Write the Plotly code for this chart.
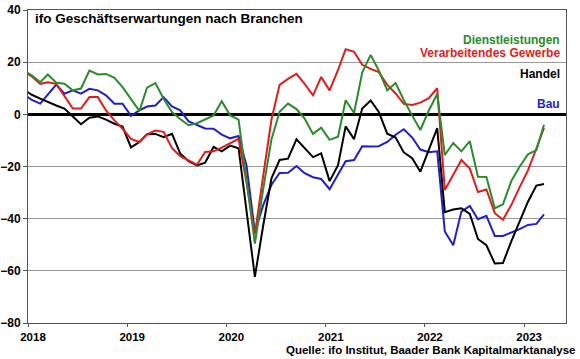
import pandas as pd
import plotly.graph_objects as go

# Monthly data, Dec 2017 .. Mar 2023 (plotted mid-month)
months = (pd.date_range("2017-12-01", "2023-03-01", freq="MS") + pd.Timedelta(days=14))

dienstleistungen = [16.8,
    15.0, 12.3, 15.3, 12.1, 11.7, 9.2, 9.9, 16.8, 15.3, 15.5, 14.0, 10.4,
    6.0, 1.3, 10.2, 12.0, 6.0, 0.9, -1.8, -4.2, -3.4, -1.8, -0.4, 5.0,
    -0.4, -2.0, -25.0, -49.6, -29.0, -9.6, 1.0, 4.1, 2.0, -1.6, -7.5, -5.1,
    -9.8, -8.6, 5.4, 0.5, 16.0, 22.8, 16.8, 9.2, 12.0, 5.5, -0.5, -6.0,
    1.5, 7.8, -15.6, -11.0, -14.2, -10.3, -23.9, -24.0, -36.0, -34.5, -25.5, -20.1,
    -15.3, -13.7, -4.0]

verarbeitendes_gewerbe = [16.5,
    14.5, 11.7, 12.3, 11.7, 7.0, 2.2, 2.2, 6.6, 6.6, 1.5, -2.3, -5.5,
    -9.4, -10.6, -7.7, -6.2, -6.7, -13.0, -16.0, -17.6, -19.3, -14.4, -14.2, -12.8,
    -11.0, -9.4, -26.0, -46.0, -24.0, -2.0, 11.3, 13.6, 15.5, 11.7, 7.3, 14.3,
    9.2, 17.0, 25.0, 24.0, 19.0, 17.4, 16.2, 11.3, 8.0, 4.0, 3.6, 4.5,
    6.2, 10.0, -29.0, -23.2, -17.5, -20.8, -29.8, -28.8, -37.9, -40.4, -34.7, -28.0,
    -21.5, -13.1, -5.2]

handel = [9.5,
    7.5, 6.0, 4.7, 3.4, 2.2, -1.0, -3.8, -1.3, -0.8, -2.0, -3.6, -4.7,
    -12.7, -10.6, -7.6, -7.5, -8.8, -7.5, -15.0, -18.0, -19.6, -18.5, -12.5, -14.2,
    -12.0, -13.0, -37.0, -62.3, -43.0, -24.5, -17.5, -17.0, -9.6, -12.8, -16.4, -15.0,
    -25.6, -19.5, -4.6, -9.5, 2.2, 5.3, 0.9, -7.4, -8.9, -14.6, -16.8, -22.0,
    -14.0, -5.3, -37.5, -36.5, -36.0, -38.2, -47.8, -50.2, -57.2, -57.0, -48.6, -40.8,
    -33.5, -27.3, -26.7]

bau = [7.8,
    5.5, 4.1, 7.7, 11.4, 7.9, 9.2, 7.9, 9.8, 9.2, 7.3, 4.1, 4.1,
    -0.6, 1.5, 3.0, 3.4, 6.6, 3.0, 1.5, -2.7, -4.1, -5.4, -5.5, -7.8,
    -9.2, -8.3, -19.5, -45.2, -35.0, -27.0, -22.5, -22.4, -19.8, -22.6, -24.1, -24.8,
    -28.7, -23.0, -18.0, -17.5, -12.2, -12.3, -12.2, -10.6, -7.8, -5.7, -8.9, -13.5,
    -14.5, -14.2, -44.9, -50.2, -37.3, -35.1, -40.2, -38.9, -46.6, -46.6, -45.3, -44.0,
    -42.4, -42.0, -38.4]

years = ["2018", "2019", "2020", "2021", "2022", "2023"]
y_ticks = [40, 20, 0, -20, -40, -60, -80]

series = [
    ("Bau", bau, "#1f1fd0"),
    ("Handel", handel, "#000000"),
    ("Verarbeitendes Gewerbe", verarbeitendes_gewerbe, "#e41b1b"),
    ("Dienstleistungen", dienstleistungen, "#2a8c2a"),
]

FONT = "Arial, Liberation Sans, sans-serif"
L, R, T, B = 28, 14, 10, 36
PW, PH = 580 - L - R, 359 - T - B

fig = go.Figure()
for name, vals, col in series:
    fig.add_trace(go.Scatter(x=months, y=vals, mode="lines", name=name,
                             line=dict(color=col, width=2), showlegend=False,
                             hoverinfo="skip"))

fig.update_layout(
    width=580, height=359,
    margin=dict(l=L, r=R, t=T, b=B, autoexpand=False),
    paper_bgcolor="white", plot_bgcolor="white",
    font=dict(family=FONT, size=12, color="black"),
    showlegend=False,
)

fig.update_xaxes(
    range=["2018-01-01", "2023-06-04"], automargin=False,
    tickvals=[f"{y}-01-01" for y in years], ticktext=years,
    tickfont=dict(family=FONT, size=11.5, color="black", weight="bold"),
    ticklabelshift=5, ticklabelstandoff=0,
    showgrid=False, showline=True, linecolor="#555555", linewidth=1, mirror=True,
    ticks="outside", ticklen=3, tickcolor="#555555",
)
fig.update_yaxes(
    range=[-80, 40], tickvals=y_ticks, automargin=False,
    tickfont=dict(family=FONT, size=12, color="black", weight="bold"),
    showgrid=True, gridcolor="#9a9a9a", gridwidth=1,
    zeroline=True, zerolinecolor="black", zerolinewidth=3,
    showline=True, linecolor="#555555", linewidth=1, mirror=True,
    ticks="outside", ticklen=4, tickcolor="#555555",
)

fig.add_annotation(text="<b>ifo Geschäftserwartungen nach Branchen</b>",
                   xref="paper", yref="paper", x=(33 - L) / PW, y=1 - (18 - T) / PH,
                   xanchor="left", yanchor="middle", showarrow=False,
                   font=dict(family=FONT, size=13.5, color="black"))

labels = [("Dienstleistungen", "#2a8c2a", 40),
          ("Verarbeitendes Gewerbe", "#e41b1b", 53),
          ("Handel", "#000000", 74),
          ("Bau", "#1f1fd0", 104)]
for txt, col, ypx in labels:
    fig.add_annotation(text=f"<b>{txt}</b>", xref="paper", yref="paper",
                       x=(562 - L) / PW, y=1 - (ypx - T) / PH,
                       xanchor="right", yanchor="middle", showarrow=False,
                       font=dict(family=FONT, size=12, color=col))

fig.add_annotation(text="<b>Quelle: ifo Institut, Baader Bank Kapitalmarktanalyse</b>",
                   xref="paper", yref="paper", x=(578 - L) / PW, y=-(349.5 - 323) / PH,
                   xanchor="right", yanchor="middle", showarrow=False,
                   font=dict(family=FONT, size=11.5, color="black"))

fig.write_html("out.html", config={"displayModeBar": False},
               post_script="document.body.style.margin='0';document.body.style.padding='0';")
